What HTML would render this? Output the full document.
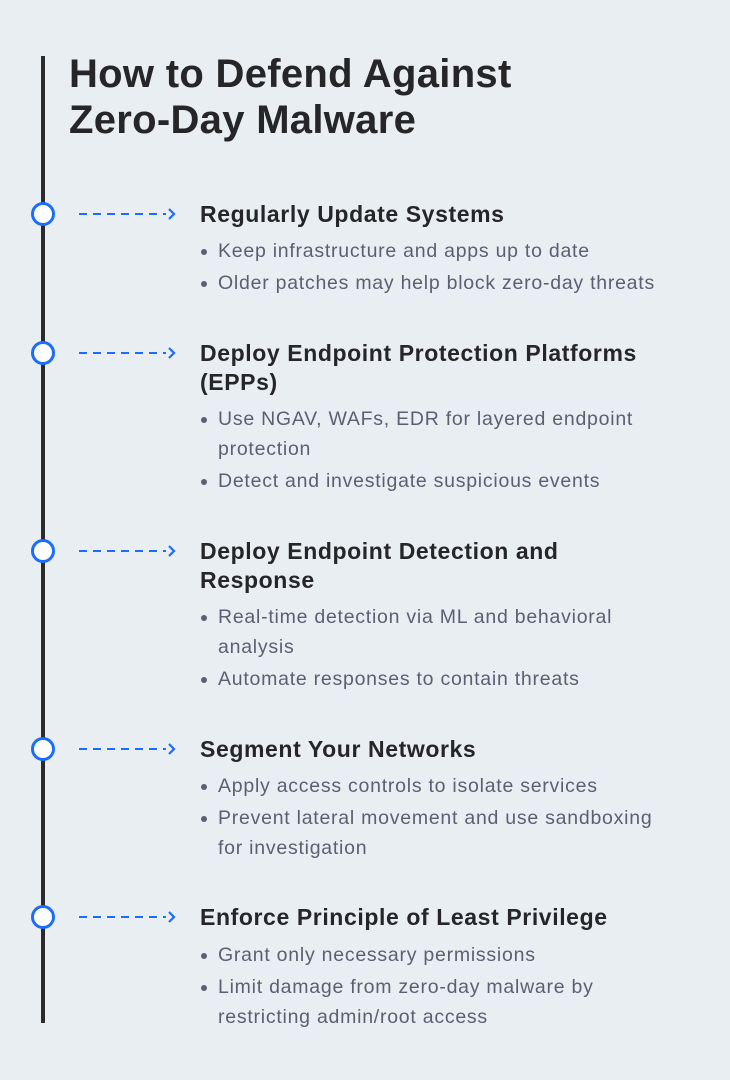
<!DOCTYPE html>
<html><head><meta charset="utf-8"><style>
body{margin:0;width:730px;height:1080px;background:#e9eef2;position:relative;overflow:hidden;font-family:"Liberation Sans",sans-serif;}
.vl{position:absolute;left:41px;top:56px;width:4px;height:967px;background:#2b2b2d;}
.t{position:absolute;left:69px;font-size:40px;font-weight:bold;color:#262628;line-height:44px;letter-spacing:0.3px;}
.c{position:absolute;left:31px;width:18px;height:18px;border:3px solid #1a6dff;border-radius:50%;background:#fff;}
.h{position:absolute;left:200px;font-size:23px;font-weight:bold;color:#262628;line-height:29px;letter-spacing:0.6px;white-space:nowrap;}
.b{position:absolute;left:218px;font-size:19.5px;color:#5b5f72;line-height:30px;white-space:nowrap;letter-spacing:0.75px;}
.b:before{content:"";position:absolute;left:-17px;top:13px;width:6px;height:6px;border-radius:50%;background:#5b5f72;}
.b.nb:before{display:none}
svg{position:absolute;left:78px;}
</style></head><body>
<div class="vl"></div>
<div class="t" style="top:52px">How to Defend Against</div>
<div class="t" style="top:98px">Zero-Day Malware</div>

<div class="c" style="top:202px"></div>
<svg style="top:206px" width="100" height="16"><line x1="1" y1="8" x2="88" y2="8" stroke="#1a6dff" stroke-width="2" stroke-dasharray="8,6"/><polyline points="91,3 96,8 91,13" fill="none" stroke="#1a6dff" stroke-width="2.2"/></svg>
<div class="h" style="top:200px">Regularly Update Systems</div>
<div class="b" style="top:236px">Keep infrastructure and apps up to date</div>
<div class="b" style="top:268px">Older patches may help block zero-day threats</div>

<div class="c" style="top:341px"></div>
<svg style="top:345px" width="100" height="16"><line x1="1" y1="8" x2="88" y2="8" stroke="#1a6dff" stroke-width="2" stroke-dasharray="8,6"/><polyline points="91,3 96,8 91,13" fill="none" stroke="#1a6dff" stroke-width="2.2"/></svg>
<div class="h" style="top:339px">Deploy Endpoint Protection Platforms<br>(EPPs)</div>
<div class="b" style="top:404px">Use NGAV, WAFs, EDR for layered endpoint</div>
<div class="b nb" style="top:434px">protection</div>
<div class="b" style="top:466px">Detect and investigate suspicious events</div>

<div class="c" style="top:539px"></div>
<svg style="top:543px" width="100" height="16"><line x1="1" y1="8" x2="88" y2="8" stroke="#1a6dff" stroke-width="2" stroke-dasharray="8,6"/><polyline points="91,3 96,8 91,13" fill="none" stroke="#1a6dff" stroke-width="2.2"/></svg>
<div class="h" style="top:537px">Deploy Endpoint Detection and<br>Response</div>
<div class="b" style="top:602px">Real-time detection via ML and behavioral</div>
<div class="b nb" style="top:632px">analysis</div>
<div class="b" style="top:664px">Automate responses to contain threats</div>

<div class="c" style="top:737px"></div>
<svg style="top:741px" width="100" height="16"><line x1="1" y1="8" x2="88" y2="8" stroke="#1a6dff" stroke-width="2" stroke-dasharray="8,6"/><polyline points="91,3 96,8 91,13" fill="none" stroke="#1a6dff" stroke-width="2.2"/></svg>
<div class="h" style="top:735px">Segment Your Networks</div>
<div class="b" style="top:771px">Apply access controls to isolate services</div>
<div class="b" style="top:803px">Prevent lateral movement and use sandboxing</div>
<div class="b nb" style="top:833px">for investigation</div>

<div class="c" style="top:905px"></div>
<svg style="top:909px" width="100" height="16"><line x1="1" y1="8" x2="88" y2="8" stroke="#1a6dff" stroke-width="2" stroke-dasharray="8,6"/><polyline points="91,3 96,8 91,13" fill="none" stroke="#1a6dff" stroke-width="2.2"/></svg>
<div class="h" style="top:903px">Enforce Principle of Least Privilege</div>
<div class="b" style="top:940px">Grant only necessary permissions</div>
<div class="b" style="top:972px">Limit damage from zero-day malware by</div>
<div class="b nb" style="top:1002px">restricting admin/root access</div>
</body></html>
